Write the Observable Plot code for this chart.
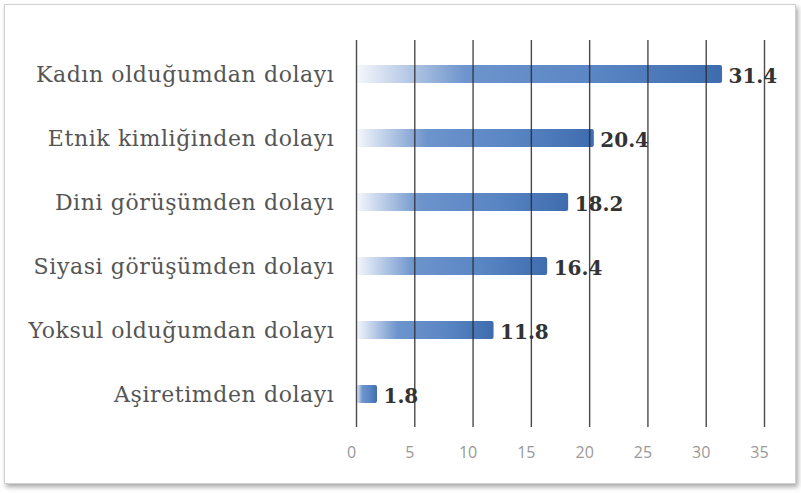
<!DOCTYPE html>
<html>
<head>
<meta charset="utf-8">
<script src="https://cdn.jsdelivr.net/npm/d3@7"></script>
<script src="https://cdn.jsdelivr.net/npm/@observablehq/plot@0.6"></script>
<style>
  html, body { margin: 0; padding: 0; background: #fff; }
  #wrap { position: relative; width: 801px; height: 493px; overflow: hidden; }
  #frame { position: absolute; left: 4px; top: 4px; width: 790px; height: 478px;
           border: 1px solid #d0d0d0; box-shadow: 2px 3px 5px rgba(0,0,0,0.35); background: #fff; }
  #chart { position: absolute; left: 0; top: 0; }
  #chart g[aria-label="y-axis tick label"] text { letter-spacing: 0.6px; }
</style>
</head>
<body>
<div id="wrap"><div id="frame"></div><div id="chart"></div></div>
<script>
const categories = [
  "Kadın olduğumdan dolayı",
  "Etnik kimliğinden dolayı",
  "Dini görüşümden dolayı",
  "Siyasi görüşümden dolayı",
  "Yoksul olduğumdan dolayı",
  "Aşiretimden dolayı"
];
const values = [31.4, 20.4, 18.2, 16.4, 11.8, 1.8];
const xTicks = [0, 5, 10, 15, 20, 25, 30, 35];

const data = categories.map((c, i) => ({category: c, value: values[i]}));

const chart = Plot.plot({
  width: 801,
  height: 493,
  marginLeft: 356,
  marginRight: 37,
  marginTop: 40,
  marginBottom: 66,
  style: {background: "transparent", overflow: "visible"},
  x: {domain: [0, 35], ticks: xTicks, label: null},
  y: {domain: categories, padding: 0, label: null},
  marks: [
    () => {
      const svg = d3.create("svg:defs");
      const g = svg.append("linearGradient").attr("id", "barGrad")
        .attr("x1", "0").attr("x2", "1").attr("y1", "0").attr("y2", "0");
      g.append("stop").attr("offset", "0").attr("stop-color", "#f6f8fc");
      g.append("stop").attr("offset", "0.3").attr("stop-color", "#6d94cc");
      g.append("stop").attr("offset", "0.65").attr("stop-color", "#5a86c4");
      g.append("stop").attr("offset", "1").attr("stop-color", "#3f6cae");
      return svg.node();
    },
    Plot.barX(data, {x: "value", y: "category", fill: "url(#barGrad)", insetTop: 23, insetBottom: 23, rx: 2}),
    Plot.ruleX(xTicks, {stroke: "#2a2a2a", strokeWidth: 1.4, strokeOpacity: 0.85}),
    Plot.axisX({ticks: xTicks, tickSize: 0, tickPadding: 19, dx: -5, fontSize: 16, fill: "#999",
                fontFamily: "'Open Sans', sans-serif", label: null}),
    Plot.axisY({tickSize: 0, tickPadding: 22, fontSize: 22, fill: "#555",
                fontFamily: "'DejaVu Serif', serif", label: null}),
    Plot.text(data, {x: "value", y: "category", text: d => d.value.toFixed(1), textAnchor: "start", dx: 6, dy: 2,
                     fontSize: 20, fontWeight: "bold", fill: "#333", fontFamily: "'DejaVu Serif', serif"})
  ]
});
document.getElementById("chart").appendChild(chart);
</script>
</body>
</html>
